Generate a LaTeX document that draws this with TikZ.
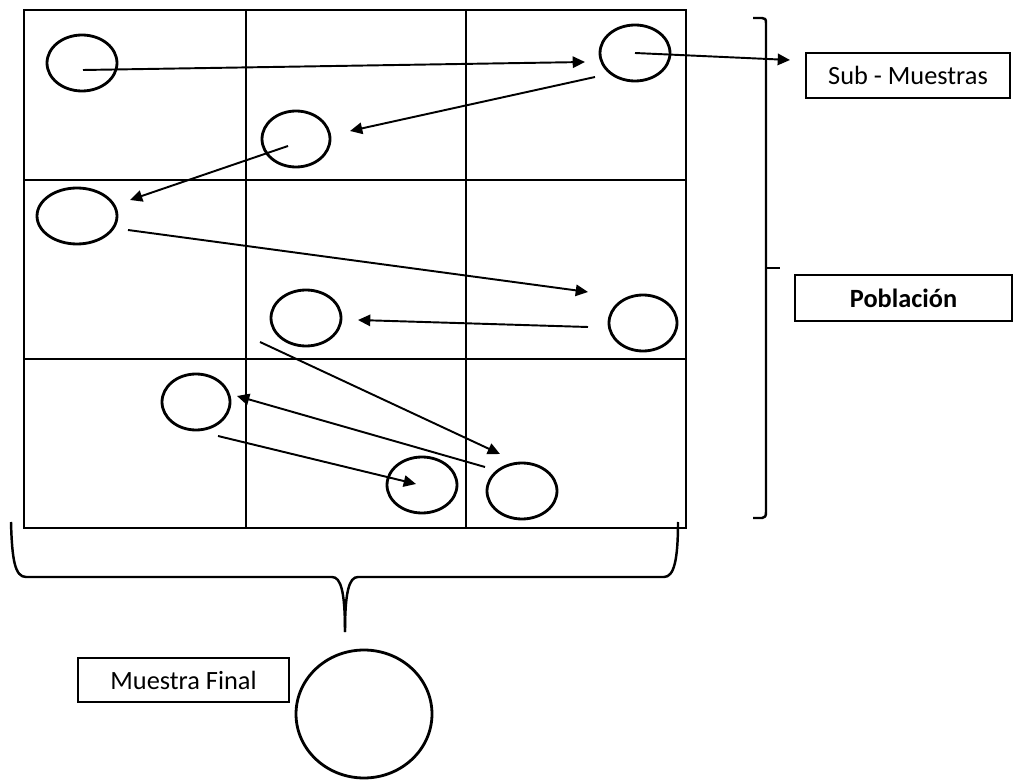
\documentclass[tikz,border=0pt]{standalone}
\usepackage{fontspec}
\setmainfont{Carlito}
\usetikzlibrary{shapes.geometric,arrows.meta}
\begin{document}
\begin{tikzpicture}[x=0.02cm,y=-0.02cm,
  ring/.style={draw,ellipse,line width=1.6pt,inner sep=0pt,outer sep=0pt},
  arr/.style={line width=1.1pt,-{Triangle[length=7pt,width=6.5pt]}},
  lbl/.style={draw,line width=1pt,inner sep=0pt,font=\fontsize{15}{18}\selectfont},
  gridline/.style={line width=0.8pt},
  brace/.style={line width=1.4pt,line join=round}]
\useasboundingbox (0,0) rectangle (1018,780);
% grid
\draw[gridline] (24,10) rectangle (686,528);
\draw[gridline] (246,10) -- (246,528);
\draw[gridline] (466,10) -- (466,528);
\draw[gridline] (24,180) -- (686,180);
\draw[gridline] (24,359) -- (686,359);
% circles
\node[ring,minimum width=1.40cm,minimum height=1.12cm] (c1) at (82,63) {};
\node[ring,minimum width=1.40cm,minimum height=1.12cm] (c2) at (635,53) {};
\node[ring,minimum width=1.36cm,minimum height=1.12cm] (c3) at (296,139) {};
\node[ring,minimum width=1.60cm,minimum height=1.12cm] (c4) at (77,216) {};
\node[ring,minimum width=1.40cm,minimum height=1.12cm] (c5) at (306,318) {};
\node[ring,minimum width=1.36cm,minimum height=1.12cm] (c6) at (643,323) {};
\node[ring,minimum width=1.36cm,minimum height=1.12cm] (c7) at (196,402) {};
\node[ring,minimum width=1.40cm,minimum height=1.12cm] (c8) at (422,485) {};
\node[ring,minimum width=1.40cm,minimum height=1.12cm] (c9) at (522,491) {};
\node[ring,minimum width=2.72cm,minimum height=2.56cm] (cf) at (364,714) {};
% label boxes
\node[lbl,minimum width=4.08cm,minimum height=0.90cm] (sub) at (908,75.5) {Sub - Muestras};
\node[lbl,minimum width=4.34cm,minimum height=0.92cm] (pob) at (903.5,298) {\bfseries Población};
\node[lbl,minimum width=4.22cm,minimum height=0.88cm] (fin) at (183.5,680) {Muestra Final};
% connector end points
\coordinate (s1) at (83,70);   \coordinate (e1) at (585,62);
\coordinate (e2) at (790,60);
\coordinate (s3) at (595,77);  \coordinate (e3) at (350,131);
\coordinate (s4) at (288,146); \coordinate (e4) at (130,200);
\coordinate (s5) at (128,230); \coordinate (e5) at (588,292);
\coordinate (s6) at (588,327); \coordinate (e6) at (358,320);
\coordinate (s7) at (260,342); \coordinate (e7) at (500,454);
\coordinate (s8) at (485,467); \coordinate (e8) at (237,396);
\coordinate (s9) at (218,436); \coordinate (e9) at (416,484);
% arrows
\draw[arr] (s1) -- (e1);
\draw[arr] (c2.center) -- (e2);
\draw[arr] (s3) -- (e3);
\draw[arr] (s4) -- (e4);
\draw[arr] (s5) -- (e5);
\draw[arr] (s6) -- (e6);
\draw[arr] (s7) -- (e7);
\draw[arr] (s8) -- (e8);
\draw[arr] (s9) -- (e9);
% right bracket
\draw[brace] (753,18) -- (762,18) .. controls (765,18) and (766,19) .. (766,23) -- (766,512) .. controls (766,516) and (765,518) .. (762,518) -- (753,518);
\draw[brace] (766,268) -- (780,268);
% bottom brace
\draw[brace] (11,522) .. controls (12,560) and (15,577) .. (26,577) -- (332,577) .. controls (341,577) and (345,592) .. (345,632);
\draw[brace] (345,632) .. controls (345,592) and (349,577) .. (358,577) -- (664,577) .. controls (674,577) and (678,560) .. (678,522);
\end{tikzpicture}
\end{document}
